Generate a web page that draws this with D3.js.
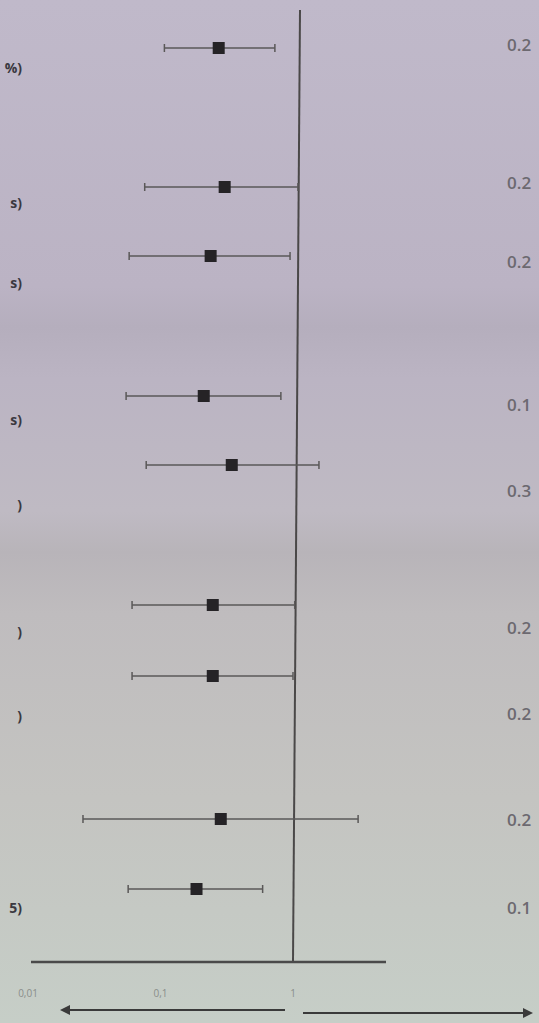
<!DOCTYPE html>
<meta charset="utf-8" />
<script src="https://d3js.org/d3.v7.min.js"></script>
<style>
  body { margin: 0; }
</style>
<div id="chart"></div>
<script>
    // values (odds ratios on a log axis)
    const rowLabels = ["%)", "s)", "s)", "s)", ")", ")", ")", "", "5)"];
    const estimates = [0.275, 0.305, 0.239, 0.212, 0.345, 0.248, 0.248, 0.285, 0.187];
    const lower = [0.107, 0.076, 0.058, 0.055, 0.078, 0.061, 0.061, 0.026, 0.057];
    const upper = [0.73, 1.09, 0.95, 0.81, 1.57, 1.03, 1.0, 3.1, 0.59];
    // only the start of the right column is inside the photo
    const rightText = ["0.2", "0.2", "0.2", "0.1", "0.3", "0.2", "0.2", "0.2", "0.1"];
    const rowPos = [48, 187, 256, 396, 465, 605, 676, 819, 889];
    const textPos = [45, 183, 262, 405, 491, 628, 714, 820, 908];
    const labelPos = [68, 203, 283, 420, 505, 632, 716, 820, 908];
    const tickValues = [0.01, 0.1, 1];
    const tickText = ["0,01", "0,1", "1"];

    const width = 539, height = 1023;

    const svg = d3.select("#chart")
        .append("svg")
        .attr("width", width)
        .attr("height", height);

    // photo background, lilac at the top fading to grey green
    const defs = svg.append("defs");
    const grad = defs.append("linearGradient")
        .attr("id", "bg").attr("x1", 0).attr("y1", 0).attr("x2", 0).attr("y2", 1);
    grad.append("stop").attr("offset", "0%").attr("stop-color", "#c0b9ca");
    grad.append("stop").attr("offset", "28%").attr("stop-color", "#bbb3c4");
    grad.append("stop").attr("offset", "32%").attr("stop-color", "#b5aebd");
    grad.append("stop").attr("offset", "37%").attr("stop-color", "#bbb4c3");
    grad.append("stop").attr("offset", "50%").attr("stop-color", "#bfbac3");
    grad.append("stop").attr("offset", "54%").attr("stop-color", "#b8b4b9");
    grad.append("stop").attr("offset", "60%").attr("stop-color", "#bfbcbe");
    grad.append("stop").attr("offset", "78%").attr("stop-color", "#c4c4c1");
    grad.append("stop").attr("offset", "100%").attr("stop-color", "#c6cec7");
    svg.append("rect").attr("width", width).attr("height", height).attr("fill", "url(#bg)");

    const x = d3.scaleLog()
        .domain([0.01, 1])
        .range([28, 293]);

    const axisY = 962;

    // reference line at 1 (leans a little, photo perspective)
    svg.append("line")
        .attr("x1", x(1) + 7).attr("x2", x(1))
        .attr("y1", 10).attr("y2", axisY)
        .attr("stroke", "#4a4848").attr("stroke-width", 2);

    // bottom axis line
    svg.append("line")
        .attr("x1", 31).attr("x2", 386)
        .attr("y1", axisY).attr("y2", axisY)
        .attr("stroke", "#4a4a4a").attr("stroke-width", 2.5);

    svg.selectAll(".tick-label")
        .data(tickValues)
        .join("text")
        .attr("class", "tick-label")
        .attr("x", d => x(d))
        .attr("y", 997)
        .attr("text-anchor", "middle")
        .attr("font-family", "Open Sans, sans-serif")
        .attr("font-size", 10)
        .attr("fill", "#8a8e8a")
        .text((d, i) => tickText[i]);

    // direction arrows
    const marker = defs.append("marker")
        .attr("id", "arrow")
        .attr("viewBox", "0 0 10 10")
        .attr("refX", 8).attr("refY", 5)
        .attr("markerWidth", 5).attr("markerHeight", 5)
        .attr("orient", "auto-start-reverse");
    marker.append("path").attr("d", "M0,0 L10,5 L0,10 z").attr("fill", "#3a3a3a");

    svg.append("line")
        .attr("x1", 285).attr("x2", 62)
        .attr("y1", 1010).attr("y2", 1010)
        .attr("stroke", "#3a3a3a").attr("stroke-width", 2)
        .attr("marker-end", "url(#arrow)");
    svg.append("line")
        .attr("x1", 303).attr("x2", 531)
        .attr("y1", 1013).attr("y2", 1013)
        .attr("stroke", "#3a3a3a").attr("stroke-width", 2)
        .attr("marker-end", "url(#arrow)");

    const rows = estimates.map((d, i) => ({
        est: d, lo: lower[i], hi: upper[i], y: rowPos[i],
        label: rowLabels[i], ly: labelPos[i], txt: rightText[i], ty: textPos[i]
    }));

    const g = svg.selectAll(".row")
        .data(rows)
        .join("g")
        .attr("class", "row");

    g.append("line")
        .attr("x1", d => x(d.lo)).attr("x2", d => x(d.hi))
        .attr("y1", d => d.y).attr("y2", d => d.y)
        .attr("stroke", "#5a5858").attr("stroke-width", 1.6);
    g.append("line")
        .attr("x1", d => x(d.lo)).attr("x2", d => x(d.lo))
        .attr("y1", d => d.y - 4).attr("y2", d => d.y + 4)
        .attr("stroke", "#5a5858").attr("stroke-width", 1.5);
    g.append("line")
        .attr("x1", d => x(d.hi)).attr("x2", d => x(d.hi))
        .attr("y1", d => d.y - 4).attr("y2", d => d.y + 4)
        .attr("stroke", "#5a5858").attr("stroke-width", 1.5);
    g.append("rect")
        .attr("x", d => x(d.est) - 6)
        .attr("y", d => d.y - 6)
        .attr("width", 12).attr("height", 12)
        .attr("fill", "#252326");

    // left labels, only their tails are in view
    g.append("text")
        .attr("x", 22)
        .attr("y", d => d.ly + 5)
        .attr("text-anchor", "end")
        .attr("font-family", "Open Sans, sans-serif")
        .attr("font-weight", "bold")
        .attr("font-size", 14)
        .attr("fill", "#3a3840")
        .text(d => d.label);

    g.append("text")
        .attr("x", 507)
        .attr("y", d => d.ty + 6)
        .attr("font-family", "Open Sans, sans-serif")
        .attr("font-weight", 600)
        .attr("font-size", 17)
        .attr("fill", "#6c6970")
        .text(d => d.txt);
</script>
